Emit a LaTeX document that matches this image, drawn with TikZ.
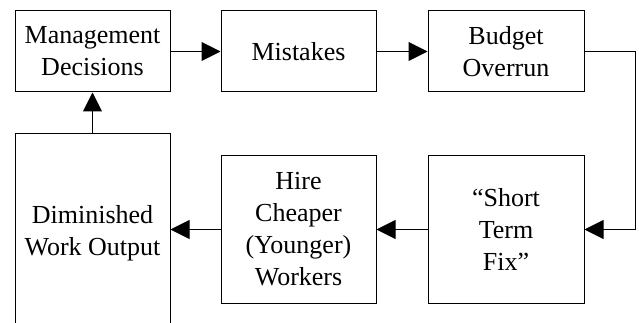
\documentclass[tikz,border=0pt]{standalone}
\usepackage{fontspec}
\setmainfont{Liberation Serif}
\usetikzlibrary{arrows.meta}
\tikzset{
  boxnode/.style={draw, line width=1pt, inner sep=0pt, align=center,
    font=\fontsize{26}{32}\selectfont},
  flow/.style={line width=1pt, -{Triangle[length=19pt,width=19pt]}}
}
\begin{document}
\begin{tikzpicture}[x=1pt,y=-1pt]
\useasboundingbox (0,0) rectangle (639,323);
\begin{scope}
\clip (0,0) rectangle (639,323);
\node[boxnode, minimum width=155pt, minimum height=81pt] (mgmt) at (92.5,51.5) {Management\\Decisions};
\node[boxnode, minimum width=155pt, minimum height=81pt] (mist) at (298.5,51.5) {Mistakes};
\node[boxnode, minimum width=156pt, minimum height=81pt] (budget) at (506,51.5) {Budget\\Overrun};
\node[boxnode, minimum width=156pt, minimum height=147pt] (short) at (506,229.5) {“Short\\Term\\Fix”};
\node[boxnode, minimum width=155pt, minimum height=147pt] (hire) at (298.5,229.5) {Hire\\Cheaper\\(Younger)\\Workers};
\node[boxnode, minimum width=155pt, minimum height=198pt] (dim) at (92.5,233) {Diminished\\Work Output};
\coordinate (corner) at (635,51.5);
\draw[flow] (mgmt.east) -- (mist.west);
\draw[flow] (mist.east) -- (budget.west);
\draw[flow] (budget.east) -- (corner) |- (short.east);
\draw[flow] (short.west) -- (hire.east);
\draw[flow] (hire.west) -- (hire.west -| dim.east);
\draw[flow] (dim.north) -- (mgmt.south);
\end{scope}
\end{tikzpicture}
\end{document}
